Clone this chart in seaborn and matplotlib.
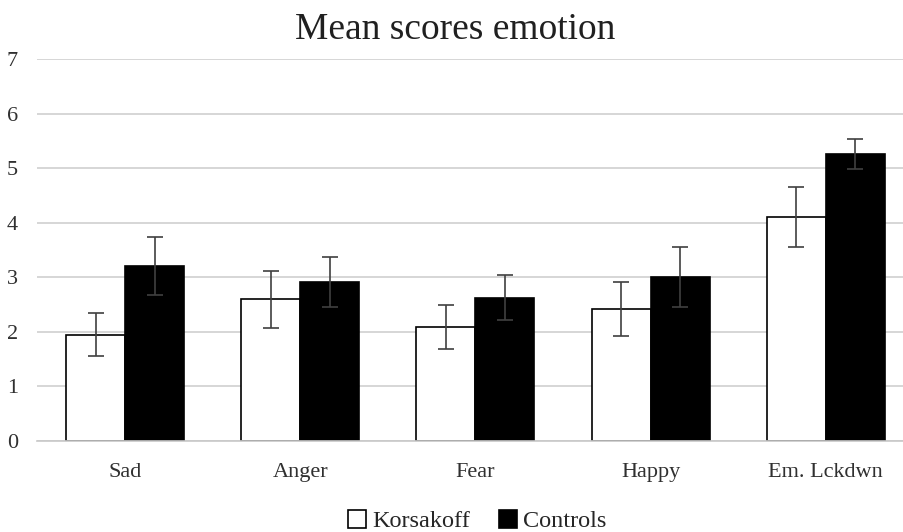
import numpy as np
import pandas as pd
import matplotlib
matplotlib.use("Agg")
import matplotlib.pyplot as plt
from matplotlib.patches import Patch
import seaborn as sns

categories = ["Sad", "Anger", "Fear", "Happy", "Em. Lckdwn"]
groups = ["Korsakoff", "Controls"]
korsakoff_mean = [1.95, 2.60, 2.09, 2.42, 4.10]
controls_mean = [3.21, 2.92, 2.63, 3.01, 5.26]
korsakoff_err = [0.40, 0.52, 0.41, 0.49, 0.55]
controls_err = [0.53, 0.46, 0.41, 0.55, 0.28]
yticks = [0, 1, 2, 3, 4, 5, 6, 7]

df = pd.DataFrame({
    "category": categories * 2,
    "group": [groups[0]] * len(categories) + [groups[1]] * len(categories),
    "score": korsakoff_mean + controls_mean,
    "err": korsakoff_err + controls_err,
})

sns.set_style("white")
plt.rcParams["font.family"] = ["Liberation Serif", "DejaVu Serif"]

fig = plt.figure(figsize=(9.04, 5.32), dpi=100)
# axes run a little past the right edge, like the source image
ax = fig.add_axes([0.0414, 0.171, 0.969, 0.718])

sns.barplot(data=df, x="category", y="score", hue="group", order=categories,
            hue_order=groups, palette={"Korsakoff": "white", "Controls": "black"},
            edgecolor="black", linewidth=1.2, width=0.674, errorbar=None,
            legend=False, ax=ax, zorder=2)

# error bars at bar centres
for container, g in zip(ax.containers, groups):
    sub = df[df["group"] == g].set_index("category").loc[categories]
    xs = [p.get_x() + p.get_width() / 2 for p in container.patches]
    ax.errorbar(xs, sub["score"], yerr=sub["err"], fmt="none", ecolor="#404040",
                elinewidth=1.2, capsize=5.5, capthick=1.2, zorder=3)

ax.set_xlim(-0.5, len(categories) - 0.5)
ax.set_ylim(0, 7)
ax.set_yticks(yticks)
ax.yaxis.grid(True, color="#d0d0d0", linewidth=1.2, zorder=0)
ax.set_axisbelow(True)
for s in ["left", "right", "top"]:
    ax.spines[s].set_visible(False)
ax.spines["bottom"].set_color("#c8c8c8")
ax.spines["bottom"].set_linewidth(1.2)

ax.set_xticks(np.arange(len(categories)))
ax.set_xticklabels(categories, fontsize=16)
ax.tick_params(axis="x", length=0, pad=16)
ax.set_xticks(np.arange(-0.5, len(categories)), minor=True)
ax.tick_params(axis="x", which="minor", length=7, color="#c8c8c8", width=1.2)
ax.tick_params(axis="y", length=0, labelsize=16, pad=14)
for lbl in ax.get_yticklabels() + ax.get_xticklabels():
    lbl.set_color("#303030")
ax.set_xlabel("")
ax.set_ylabel("")

fig.text(0.504, 1 - 30 / 532, "Mean scores emotion", fontsize=27,
         ha="center", va="center", color="#202020")

handles = [Patch(facecolor="white", edgecolor="black", linewidth=1.2),
           Patch(facecolor="black", edgecolor="black", linewidth=1.2)]
fig.legend(handles, groups, loc="center", bbox_to_anchor=(0.528, 1 - 521 / 532),
           ncol=2, frameon=False, fontsize=17.5, handlelength=0.75, handleheight=0.75,
           handletextpad=0.25, columnspacing=1.2, borderpad=0)

fig.savefig("out.png", dpi=100)
